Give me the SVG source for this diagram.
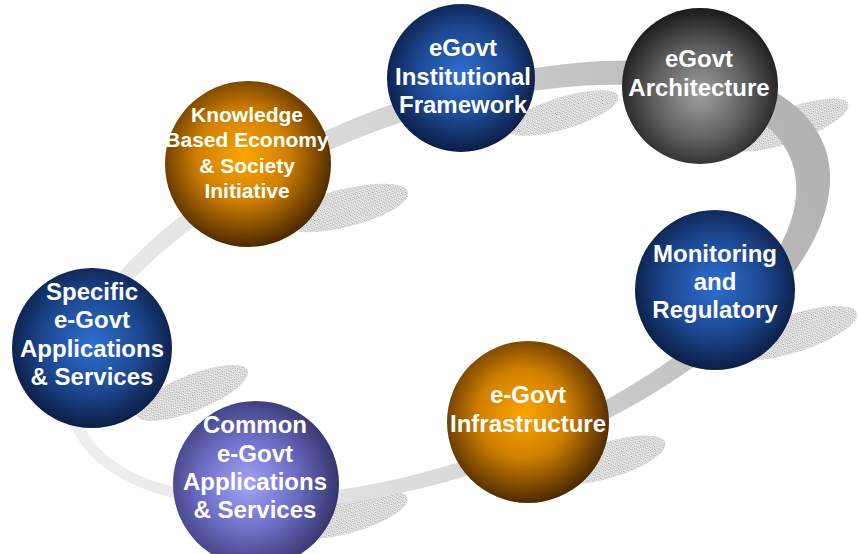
<svg xmlns="http://www.w3.org/2000/svg" width="858" height="554" viewBox="0 0 858 554">
  <defs>
    <style>
      .lbl { font-family: "Liberation Sans", Arial, sans-serif; font-weight: bold; fill: #ffffff; text-anchor: middle; }
      .s24 { font-size: 24px; }
      .s21 { font-size: 21px; }
      .shadow { fill: url(#stipple); }
    </style>
    <pattern id="stipple" width="4" height="4" patternUnits="userSpaceOnUse">
      <rect width="4" height="4" fill="#e2e2e2"/>
      <rect x="0" y="0" width="1" height="1" fill="#a6a6a6"/>
      <rect x="2" y="1" width="1" height="1" fill="#b4b4b4"/>
      <rect x="1" y="2" width="1" height="1" fill="#bcbcbc"/>
      <rect x="3" y="3" width="1" height="1" fill="#a2a2a2"/>
      <rect x="3" y="0" width="1" height="1" fill="#f6f6f6"/>
      <rect x="0" y="3" width="1" height="1" fill="#f8f8f8"/>
      <rect x="2" y="2" width="1" height="1" fill="#f4f4f4"/>
    </pattern>
    <linearGradient id="ringGrad" gradientUnits="userSpaceOnUse" x1="45" y1="0" x2="850" y2="0">
      <stop offset="0" stop-color="#efefef"/>
      <stop offset="0.45" stop-color="#d8d8d8"/>
      <stop offset="1" stop-color="#b2b2b2"/>
    </linearGradient>
    <radialGradient id="orange" cx="0.47" cy="0.45" r="0.55">
      <stop offset="0" stop-color="#fba600"/>
      <stop offset="0.5" stop-color="#cf7f00"/>
      <stop offset="1" stop-color="#4e2a00"/>
    </radialGradient>
    <radialGradient id="blue" cx="0.5" cy="0.47" r="0.55">
      <stop offset="0" stop-color="#2f6fd0"/>
      <stop offset="0.55" stop-color="#1d4892"/>
      <stop offset="1" stop-color="#0a1a3e"/>
    </radialGradient>
    <radialGradient id="gray" cx="0.5" cy="0.55" r="0.55">
      <stop offset="0" stop-color="#a0a0a0"/>
      <stop offset="0.55" stop-color="#5e5e5e"/>
      <stop offset="1" stop-color="#1a1a1a"/>
    </radialGradient>
    <radialGradient id="purple" cx="0.45" cy="0.5" r="0.55">
      <stop offset="0" stop-color="#a4a4fa"/>
      <stop offset="0.55" stop-color="#6a6ac0"/>
      <stop offset="1" stop-color="#36366e"/>
    </radialGradient>
  </defs>

  <rect width="858" height="554" fill="#ffffff"/>

  <g id="shadows">
    <ellipse class="shadow" cx="345" cy="208" rx="65" ry="19" transform="rotate(-14 345 208)"/>
    <ellipse class="shadow" cx="563" cy="113" rx="58" ry="16" transform="rotate(-17 563 113)"/>
    <ellipse class="shadow" cx="790" cy="125" rx="62" ry="17" transform="rotate(-20 790 125)"/>
    <ellipse class="shadow" cx="795" cy="333" rx="65" ry="19" transform="rotate(-18 795 333)"/>
    <ellipse class="shadow" cx="192" cy="393" rx="60" ry="18" transform="rotate(-22 192 393)"/>
    <ellipse class="shadow" cx="352" cy="515" rx="58" ry="17" transform="rotate(-17 352 515)"/>
    <ellipse class="shadow" cx="608" cy="460" rx="60" ry="18" transform="rotate(-17 608 460)"/>
  </g>

  <g id="connectors">
    <path transform="rotate(-20 445 285)" fill="url(#ringGrad)" fill-rule="evenodd"
      d="M 45 285 a 402 188 0 1 0 804 0 a 402 188 0 1 0 -804 0 Z M 57 287 a 378 170 0 1 0 756 0 a 378 170 0 1 0 -756 0 Z"/>
  </g>

  <g id="node-knowledge">
    <circle cx="248" cy="164" r="83" fill="url(#orange)"/>
    <text class="lbl s21" x="247" y="122">Knowledge</text>
    <text class="lbl s21" x="247" y="147">Based Economy</text>
    <text class="lbl s21" x="247" y="173">&amp; Society</text>
    <text class="lbl s21" x="247" y="198">Initiative</text>
  </g>

  <g id="node-institutional">
    <circle cx="461" cy="78" r="74" fill="url(#blue)"/>
    <text class="lbl s24" x="463" y="56">eGovt</text>
    <text class="lbl s24" x="463" y="85">Institutional</text>
    <text class="lbl s24" x="463" y="113">Framework</text>
  </g>

  <g id="node-architecture">
    <circle cx="700" cy="86" r="78" fill="url(#gray)"/>
    <text class="lbl s24" x="699" y="67">eGovt</text>
    <text class="lbl s24" x="699" y="96">Architecture</text>
  </g>

  <g id="node-monitoring">
    <circle cx="715" cy="290" r="80" fill="url(#blue)"/>
    <text class="lbl s24" x="715" y="262">Monitoring</text>
    <text class="lbl s24" x="715" y="290">and</text>
    <text class="lbl s24" x="715" y="318">Regulatory</text>
  </g>

  <g id="node-infrastructure">
    <circle cx="528" cy="422" r="81" fill="url(#orange)"/>
    <text class="lbl s24" x="528" y="403">e-Govt</text>
    <text class="lbl s24" x="528" y="432">Infrastructure</text>
  </g>

  <g id="node-common">
    <circle cx="256" cy="484" r="83" fill="url(#purple)"/>
    <text class="lbl s24" x="255" y="433">Common</text>
    <text class="lbl s24" x="255" y="462">e-Govt</text>
    <text class="lbl s24" x="255" y="490">Applications</text>
    <text class="lbl s24" x="255" y="518">&amp; Services</text>
  </g>

  <g id="node-specific">
    <circle cx="92" cy="348" r="80" fill="url(#blue)"/>
    <text class="lbl s24" x="92" y="300">Specific</text>
    <text class="lbl s24" x="92" y="328">e-Govt</text>
    <text class="lbl s24" x="92" y="357">Applications</text>
    <text class="lbl s24" x="92" y="385">&amp; Services</text>
  </g>
</svg>
